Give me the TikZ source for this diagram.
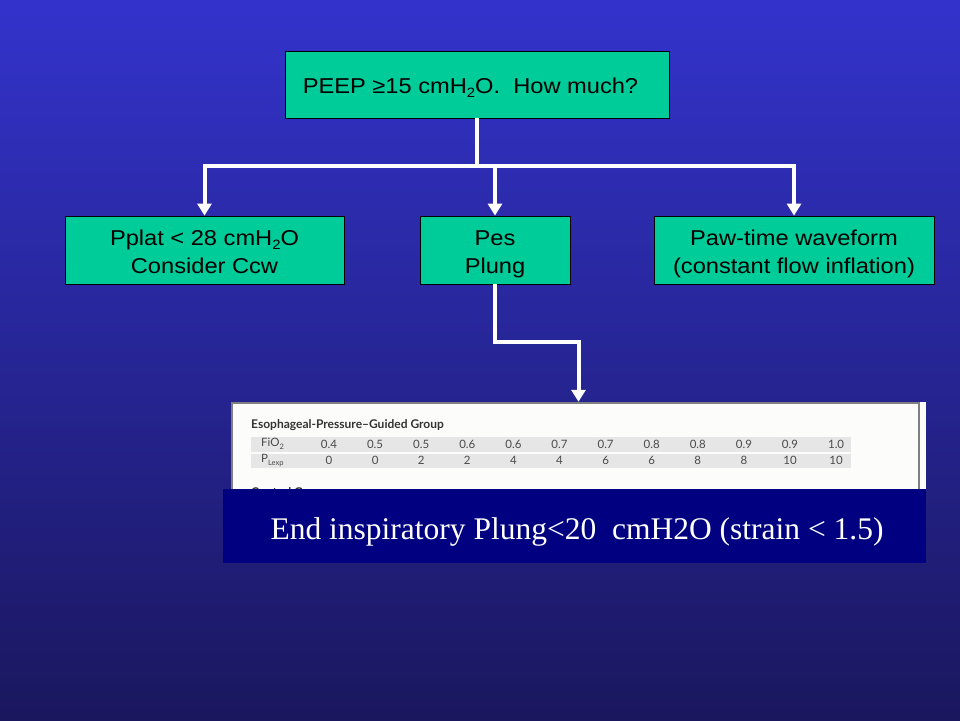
\documentclass[tikz,border=0pt]{standalone}
\usepackage{fontspec}
\setmainfont{Liberation Sans}
\newfontfamily\boxfont[FakeStretch=1.1]{Liberation Sans}
\newfontfamily\serifbig{Liberation Serif}
\newfontfamily\tabfont{Lato}
\usetikzlibrary{arrows.meta,calc}
\definecolor{bgtop}{HTML}{3333CC}
\definecolor{bgmid}{HTML}{2D2BA8}
\definecolor{bgbot}{HTML}{1A175E}
\definecolor{boxgreen}{HTML}{00CC99}
\definecolor{navybox}{HTML}{000080}
\definecolor{rowgray}{HTML}{E6E6E6}
\definecolor{panelwhite}{HTML}{FCFCFA}
\definecolor{tabtext}{HTML}{4A4A4A}
\newcommand{\subtwo}{\raisebox{-0.35ex}{\fontsize{13.5}{13.5}\selectfont 2}}
\newcommand{\tsub}[1]{\raisebox{-0.45ex}{\fontsize{7.5}{7.5}\selectfont #1}}
\tikzset{
  greenbox/.style={draw=black, line width=0.8pt, fill=boxgreen, inner sep=0pt},
  boxtext/.style={font=\boxfont\fontsize{21.5}{28}\selectfont, align=center, text=black, inner sep=0pt},
  arr/.style={draw=white, line width=4pt, -{Triangle[width=14pt,length=12pt]}},
  wline/.style={draw=white, line width=4pt},
  tabcell/.style={font=\tabfont\fontsize{11.5}{13}\selectfont, text=tabtext, inner sep=0pt},
  tabhead/.style={font=\tabfont\bfseries\fontsize{12}{14}\selectfont, text=black!80, inner sep=0pt, anchor=west},
}
\begin{document}
\begin{tikzpicture}[x=1pt,y=-1pt]
\useasboundingbox (0,0) rectangle (960,720);
\shade[top color=bgtop, middle color=bgmid, bottom color=bgbot] (0,0) rectangle (960,720);

% boxes
\node[greenbox, minimum width=384pt, minimum height=67pt] (top) at (477,84.5) {};
\node[boxtext, anchor=west] (toptxt) at ([xshift=18pt,yshift=-3.5pt]top.west) {PEEP ≥15 cmH\subtwo O.\ \ How much?};
\node[greenbox, minimum width=279pt, minimum height=68pt] (left) at (204.5,250) {};
\node[boxtext] (lefttxt) at ([yshift=-3.5pt]left.center) {\strut Pplat < 28 cmH\subtwo O\\\strut Consider Ccw};
\node[greenbox, minimum width=150pt, minimum height=68pt] (mid) at (495,250) {};
\node[boxtext] (midtxt) at ([yshift=-3.5pt]mid.center) {\strut Pes\\\strut Plung};
\node[greenbox, minimum width=280pt, minimum height=68pt] (right) at (794,250) {};
\node[boxtext] (righttxt) at ([yshift=-3.5pt]right.center) {\strut Paw-time waveform\\\strut (constant flow inflation)};

% panel
\node[fill=panelwhite, minimum width=695pt, minimum height=87pt, inner sep=0pt] (panel) at (578.5,445.5) {};
\draw[gray, line width=1.5pt] (232,500) -- (232,403) -- (919,403) -- (919,500);
\fill[rowgray] (251,437) rectangle (851,452);
\fill[rowgray] (251,453.5) rectangle (851,468);
\node[tabhead] (ttl) at (251,425) {Esophageal-Pressure–Guided Group};
\node[tabcell, anchor=west] (fio) at (261,444) {FiO\tsub{2}};
\node[tabcell, anchor=west] (plexp) at (261,460.5) {P\tsub{Lexp}};
\foreach \v [count=\i from 0] in {0.4,0.5,0.5,0.6,0.6,0.7,0.7,0.8,0.8,0.9,0.9,1.0}
  \node[tabcell] (fv\i) at ({329+46.1*\i},444) {\v};
\foreach \v [count=\i from 0] in {0,0,2,2,4,4,6,6,8,8,10,10}
  \node[tabcell] (pv\i) at ({329+46.1*\i},460.5) {\v};
\node[tabhead] (ctl) at (251,493) {Control Group};

% dark box
\node[fill=navybox, minimum width=703pt, minimum height=74pt, inner sep=0pt] (endbox) at (574.5,526) {};
\node[font=\serifbig\fontsize{31.5}{34}\selectfont, text=white, inner sep=0pt] (endtxt) at ([xshift=2.5pt,yshift=-6pt]endbox.center)
  {End inspiratory Plung<20 \ cmH2O (strain < 1.5)};

% connectors
\coordinate (jT) at (477,166);
\coordinate (kink) at (578,342);
\draw[wline] (top.south) -- (jT);
\draw[arr] (jT) -| (left.north);
\draw[arr] (jT) -| (right.north);
\draw[arr] (jT -| mid.north) -- (mid.north);
\draw[arr] (mid.south) -- (mid.south |- kink) -| (panel.north);
\end{tikzpicture}
\end{document}
